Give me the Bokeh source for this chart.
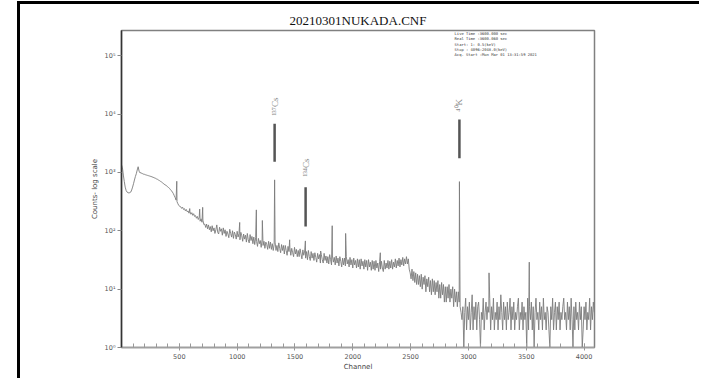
import math
from bokeh.plotting import figure
from bokeh.models import Range1d, FixedTicker, Label
from bokeh.embed import file_html
from bokeh.resources import INLINE
from bokeh.core.properties import value

# ---------------- data ----------------
title_text = "20210301NUKADA.CNF"
channel_step = 8
base_counts = [
    1350, 1200, 900, 700, 560, 490, 460, 450, 445, 450, 460, 500, 560, 640, 740, 850,
    950, 1100, 1250, 1050, 980, 990, 960, 950, 930, 925, 910, 900, 890, 880, 870, 860,
    850, 840, 825, 815, 800, 790, 770, 760, 740, 725, 705, 690, 670, 650, 630, 615,
    600, 585, 565, 548, 530, 505, 485, 460, 435, 400, 370, 335, 315, 290, 270, 262,
    258, 242, 254, 232, 240, 220, 232, 212, 218, 200, 214, 192, 204, 184, 196, 176,
    182, 164, 176, 156, 170, 146, 160, 140, 152, 128, 130, 114, 130, 108, 126, 104,
    118, 96, 122, 100, 112, 90, 104, 126, 94, 88, 115, 98, 108, 84, 112, 90,
    104, 80, 98, 88, 76, 106, 90, 78, 100, 74, 95, 86, 72, 98, 78, 90,
    70, 94, 82, 66, 88, 72, 84, 64, 90, 70, 62, 86, 68, 80, 60, 78,
    58, 76, 66, 54, 74, 60, 68, 52, 72, 56, 66, 50, 64, 58, 48, 66,
    50, 64, 48, 60, 46, 58, 64, 46, 56, 44, 62, 50, 42, 58, 46, 56,
    40, 56, 46, 38, 54, 44, 52, 38, 50, 42, 36, 52, 40, 48, 36, 46,
    36, 49, 40, 33, 47, 38, 45, 34, 44, 32, 46, 36, 31, 44, 34, 41,
    31, 42, 35, 29, 41, 33, 39, 28, 39, 32, 28, 41, 31, 37, 28, 36,
    27, 39, 32, 26, 37, 29, 35, 26, 37, 28, 34, 25, 36, 30, 24, 34,
    26, 34, 25, 36, 27, 32, 24, 35, 26, 32, 23, 34, 26, 31, 23, 33,
    24, 32, 22, 33, 25, 30, 22, 32, 24, 31, 21, 32, 24, 29, 21, 31,
    22, 30, 21, 31, 23, 28, 20, 30, 22, 30, 23, 20, 31, 22, 28, 23,
    31, 22, 30, 23, 32, 22, 29, 24, 33, 23, 31, 25, 34, 24, 32, 26,
    35, 25, 33, 27, 36, 27, 33, 22, 19, 15, 22, 14, 20, 13, 19, 12,
    18, 12, 17, 11, 18, 10, 16, 12, 17, 9, 15, 11, 16, 9, 14, 8,
    15, 9, 14, 8, 13, 9, 14, 7, 12, 7, 13, 8, 12, 6, 11, 6,
    11, 7, 12, 6, 10, 7, 11, 5, 10, 6, 9, 5, 9, 6, 5, 4,
    3, 5, 1, 4, 7, 2, 5, 3, 6, 2, 4, 8, 2, 5, 3, 6,
    2, 5, 6, 3, 1, 4, 3, 7, 2, 4, 6, 3, 5, 4, 7, 2,
    5, 3, 7, 2, 4, 3, 6, 2, 5, 3, 8, 4, 2, 6, 3, 5,
    2, 6, 3, 4, 7, 2, 5, 3, 6, 2, 4, 3, 5, 7, 2, 4,
    3, 6, 2, 5, 3, 4, 1, 7, 2, 5, 3, 6, 2, 5, 1, 4,
    7, 3, 4, 2, 6, 3, 5, 2, 7, 3, 4, 2, 5, 4, 2, 1,
    5, 3, 7, 2, 4, 6, 2, 5, 3, 6, 2, 4, 3, 5, 7, 3,
    4, 2, 6, 3, 5, 2, 7, 3, 1, 5, 2, 6, 3, 4, 2, 6,
    3, 5, 1, 2, 5, 3, 6, 2, 4, 3, 7, 2, 5, 3, 6, 4,
]
peak_channels = [478, 590, 676, 702, 1022, 1166, 1218, 1324, 1454, 1590,
                 1722, 1822, 1938, 2238, 2922, 3178, 3526]
peak_counts = [705, 240, 235, 252, 139, 228, 150, 745, 70, 67,
               45, 122, 90, 42, 695, 19, 29]

marker_channels = [1324, 1592, 2922]
marker_low = [1530, 118, 1750]
marker_high = [6800, 555, 8050]
marker_labels = ["¹³⁷Cs", "¹³⁴Cs", "⁴⁰K"]
marker_label_base = [9400, 850, 11000]

info_lines = [
    "Live Time  :3600.000 sec",
    "Real Time  :3600.060 sec",
    "Start:    1:   0.5(keV)",
    "Stop : 4096:2048.0(keV)",
    "Acq. Start :Mon Mar 01 13:31:59 2021",
]
x_ticks = [500, 1000, 1500, 2000, 2500, 3000, 3500, 4000]
x_minor = list(range(100, 4100, 100))
y_ticks = [1, 10, 100, 1000, 10000, 100000]
y_tick_labels = ["10⁰", "10¹", "10²", "10³", "10⁴", "10⁵"]

# ---------------- build series ----------------
pts = [(i * channel_step, c) for i, c in enumerate(base_counts)]
pts += list(zip(peak_channels, peak_counts))
pts.sort()
xs = [q[0] for q in pts]
ys = [q[1] for q in pts]

p = figure(width=682, height=377, y_axis_type="log",
           x_range=Range1d(0, 4090), y_range=Range1d(1, 2.7e5),
           output_backend="svg", toolbar_location=None,
           min_border_left=101, min_border_right=108,
           min_border_top=26, min_border_bottom=34)
p.styles = {"border-left": "3px solid black", "border-top": "3px solid black",
            "margin-left": "17px", "margin-top": "1px"}
p.background_fill_color = "white"
p.border_fill_color = "white"
p.grid.visible = False
p.outline_line_color = "#808080"
p.outline_line_width = 1.5

p.title.text = title_text
p.title.align = "center"
p.title.text_font = "Liberation Serif"
p.title.text_font_size = "13px"
p.title.text_font_style = "normal"
p.title.text_color = "#111111"
p.title.standoff = 6

p.line(xs, ys, line_color="#7c7c7c", line_width=0.9)

p.segment(x0=marker_channels, y0=marker_low, x1=marker_channels, y1=marker_high,
          line_color="#555555", line_width=2.5)
for ch, yb, t in zip(marker_channels, marker_label_base, marker_labels):
    p.add_layout(Label(x=ch, y=yb, text=t, angle=math.pi / 2,
                       text_align="left", text_baseline="middle",
                       text_font="Liberation Serif", text_font_size="9px",
                       text_color="#888888"))

info_y = [10 ** ((346.7 - yy) / 58.3) for yy in (33, 38.3, 43.6, 48.9, 54.2)]
p.text(x=[2880] * len(info_lines), y=info_y, text=info_lines,
       text_font=value("DejaVu Sans Mono"), text_font_size="3.8px",
       text_color="#333333", text_baseline="middle", text_align="left")

# axes
xa = p.xaxis[0]
xa.ticker = FixedTicker(ticks=x_ticks, minor_ticks=x_minor)
xa.axis_label = "Channel"
xa.axis_label_text_font = "DejaVu Sans"
xa.axis_label_text_font_size = "7px"
xa.axis_label_text_font_style = "normal"
xa.axis_label_text_color = "#444444"
xa.axis_label_standoff = 1
xa.major_label_text_font = "DejaVu Sans"
xa.major_label_text_font_size = "6.5px"
xa.major_label_text_color = "#555555"
xa.major_label_standoff = 3
xa.axis_line_color = "#a0a0a0"
xa.axis_line_width = 1.5
xa.major_tick_in = 4
xa.major_tick_out = 3
xa.minor_tick_in = 4
xa.minor_tick_out = 0
xa.major_tick_line_color = "#999999"
xa.minor_tick_line_color = "#999999"

ya = p.yaxis[0]
ya.ticker = FixedTicker(ticks=y_ticks, minor_ticks=[])
ya.major_label_overrides = {t: l for t, l in zip(y_ticks, y_tick_labels)}
ya.axis_label = "Counts- log scale"
ya.axis_label_text_font = "DejaVu Sans"
ya.axis_label_text_font_size = "7px"
ya.axis_label_text_font_style = "normal"
ya.axis_label_text_color = "#444444"
ya.axis_label_standoff = 3
ya.major_label_text_font = "DejaVu Sans"
ya.major_label_text_font_size = "6.5px"
ya.major_label_text_color = "#555555"
ya.major_label_standoff = 2
ya.axis_line_color = "#333333"
ya.axis_line_width = 1.5
ya.major_tick_in = 0
ya.major_tick_out = 4
ya.major_tick_line_color = "#888888"

open("out.html", "w").write(file_html(p, INLINE))
